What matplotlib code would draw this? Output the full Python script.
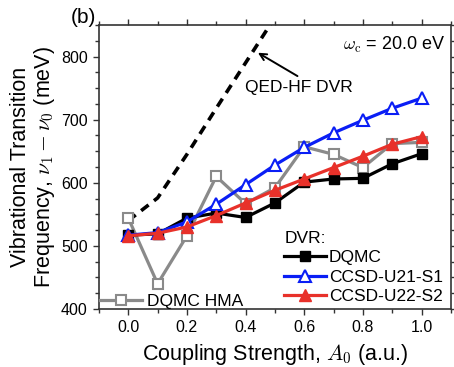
import matplotlib
matplotlib.use("Agg")
import matplotlib.pyplot as plt
from matplotlib.ticker import MultipleLocator

plt.rcParams['font.family'] = ['Liberation Sans', 'DejaVu Sans']
plt.rcParams['mathtext.fontset'] = 'cm'

# Coupling strength A0 (a.u.)
coupling = [0.0, 0.1, 0.2, 0.3, 0.4, 0.5, 0.6, 0.7, 0.8, 0.9, 1.0]

# Vibrational transition frequencies (meV)
dqmc = [517, 519, 544, 552, 545, 568, 601, 606, 607, 630, 646]
ccsd_u21_s1 = [517, 521, 538, 566, 597, 628, 656, 679, 699, 718, 734]
ccsd_u22_s2 = [516, 520, 530, 548, 568, 588, 606, 624, 642, 661, 673]
dqmc_hma = [544, 440, 516, 610, 567, 592, 657, 645, 624, 662, 664]
qed_hf = [540, 576, 645, 718, 790, 862]
qed_hf_coupling = [0.0, 0.1, 0.2, 0.3, 0.4, 0.5]

fig = plt.figure(figsize=(4.54, 3.67), dpi=100)
ax = fig.add_axes([0.218, 0.158, 0.775, 0.774])

lw = 2.3
ax.plot(qed_hf_coupling, qed_hf, color='black', lw=2.6, ls=(0, (2.6, 1.9)), zorder=2)
l_hma, = ax.plot(coupling, dqmc_hma, color='#8a8a8a', lw=lw, marker='s', ms=7.5,
                 mfc='white', mec='#8a8a8a', mew=1.5, zorder=3)
l_dqmc, = ax.plot(coupling, dqmc, color='black', lw=lw, marker='s', ms=7.5,
                  mfc='black', mec='black', zorder=4)
l_u21, = ax.plot(coupling, ccsd_u21_s1, color='#0a1ef5', lw=lw, marker='^', ms=9,
                 mfc='white', mec='#0a1ef5', mew=1.5, zorder=5)
l_u22, = ax.plot(coupling, ccsd_u22_s2, color='#e8312a', lw=lw, marker='^', ms=9,
                 mfc='#e8312a', mec='#e8312a', zorder=6)

ax.set_xlim(-0.1, 1.1)
ax.set_ylim(400, 850)
ax.xaxis.set_major_locator(MultipleLocator(0.2))
ax.xaxis.set_minor_locator(MultipleLocator(0.1))
ax.yaxis.set_major_locator(MultipleLocator(100))
ax.yaxis.set_minor_locator(MultipleLocator(25))
ax.tick_params(which='both', direction='out', top=True, right=True,
               labelsize=11.5, width=1.0, color='#333333')
ax.tick_params(which='major', length=4.5)
ax.tick_params(which='minor', length=3)
for s in ax.spines.values():
    s.set_linewidth(1.2)
    s.set_color('#333333')

ax.set_xlabel(r'Coupling Strength, $A_0$ (a.u.)', fontsize=15.5, labelpad=5)
ax.set_ylabel('Vibrational Transition\n' + r'Frequency, $\nu_1 - \nu_0$ (meV)',
              fontsize=15.5, labelpad=3, linespacing=1.05)

ax.text(0.985, 0.965, r'$\omega_{\mathrm{c}}$ = 20.0 eV', transform=ax.transAxes,
        ha='right', va='top', fontsize=13)
fig.text(0.183, 0.953, '(b)', fontsize=15, ha='center', va='center')

ax.text(0.397, 751, 'QED-HF DVR', fontsize=12.5, ha='left', va='center')
ax.annotate('', xy=(0.442, 806), xytext=(0.577, 769),
            arrowprops=dict(arrowstyle='->', color='black', lw=1.4,
                            mutation_scale=12, shrinkA=0, shrinkB=0))

leg1 = ax.legend([l_hma], ['DQMC HMA'], loc='lower left', frameon=False,
                 fontsize=12.5, handlelength=2.4, handletextpad=0.3,
                 borderaxespad=0.0, bbox_to_anchor=(-0.017, -0.025))
ax.add_artist(leg1)
leg2 = ax.legend([l_dqmc, l_u21, l_u22], ['DQMC', 'CCSD-U21-S1', 'CCSD-U22-S2'],
                 title='DVR:', loc='lower right', frameon=False, fontsize=12.5,
                 title_fontsize=12.5, handlelength=2.4, handletextpad=0.17,
                 labelspacing=0.25, borderaxespad=0.0,
                 bbox_to_anchor=(0.997, -0.008))
leg2._legend_box.align = 'left'

fig.savefig('out.png', dpi=100)
